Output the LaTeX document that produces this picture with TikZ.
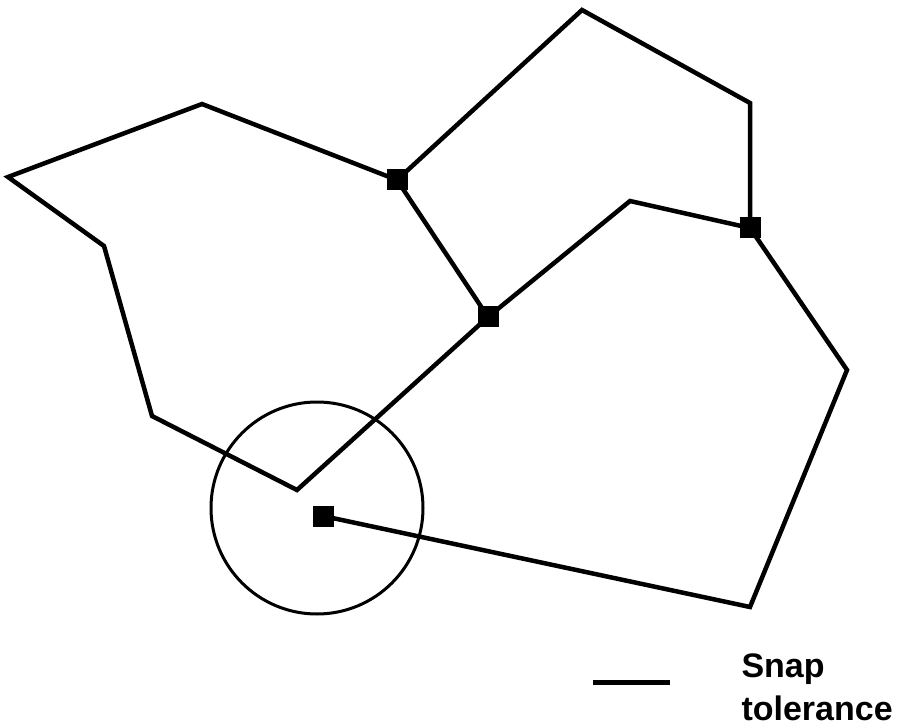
\documentclass[tikz,border=0pt]{standalone}
\usepackage{fontspec}
\setmainfont{Liberation Sans}
\usetikzlibrary{positioning}
\tikzset{
  arc/.style={line width=4.5pt,line join=miter},
  snapvtx/.style={fill=black,inner sep=0pt,minimum size=21pt},
  tolring/.style={draw,circle,line width=3pt,inner sep=0pt,minimum size=212pt},
  lab/.style={font=\bfseries\fontsize{34}{43}\selectfont}
}
\begin{document}
\begin{tikzpicture}[x=1pt,y=-1pt]
    \useasboundingbox (0,0) rectangle (897,727);
    % --- free vertices
    \coordinate (l1) at (8,177);
    \coordinate (l2) at (202,104);
    \coordinate (l3) at (297,490);
    \coordinate (l4) at (152,416);
    \coordinate (l5) at (104,246);
    \coordinate (t1) at (582,10);
    \coordinate (t2) at (750,103);
    \coordinate (t3) at (630,201);
    \coordinate (r1) at (847,370);
    \coordinate (r2) at (750,607);
    % --- tolerance ring
    \node[tolring] (ring) at (317,508) {};
    % --- snapped nodes
    \node[snapvtx] (n1) at (397,180) {};
    \node[snapvtx] (n2) at (488,317) {};
    \node[snapvtx] (n3) at (750,228) {};
    \node[snapvtx] (n4) at (323,516) {};
    % --- arcs
    \draw[arc] (n1.center)--(l2)--(l1)--(l5)--(l4)--(l3)--(n2.center);
    \draw[arc] (n1.center)--(n2.center);
    \draw[arc] (n1.center)--(t1)--(t2)--(n3.center);
    \draw[arc] (n2.center)--(t3)--(n3.center);
    \draw[arc] (n3.center)--(r1)--(r2)--(n4.center);
    % --- legend
    \coordinate (legA) at (593,682);
    \coordinate (legB) at (670,682);
    \draw[line width=5pt] (legA)--(legB);
    \node[lab,anchor=base west] (snap) at (738,677) {Snap};
    \node[lab,anchor=base west] (tol) at (738,720) {tolerance};
\end{tikzpicture}
\end{document}
